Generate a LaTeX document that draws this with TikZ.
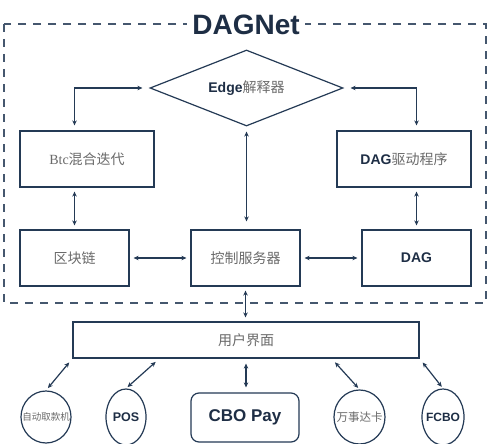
\documentclass[tikz,border=0pt]{standalone}
\usepackage{fontspec}
\setmainfont{Liberation Sans}
\newfontfamily\cjk{Noto Sans CJK SC}
\newfontfamily\serifbtc{Liberation Serif}
\usetikzlibrary{arrows.meta,shapes.geometric}
\definecolor{navy}{HTML}{1E2E45}
\definecolor{linec}{HTML}{243A55}
\definecolor{txtgray}{HTML}{6A6A6A}
\newcommand{\en}[1]{{\normalfont\bfseries\color{navy}#1}}
\begin{document}
\begin{tikzpicture}[x=1pt,y=-1pt,
  box/.style={draw=linec,line width=1.2pt,inner sep=0pt,minimum height=56pt,text=txtgray,font=\cjk\fontsize{14}{16}\selectfont},
  biarrow/.style={draw=linec,line width=1.2pt,{Stealth[length=5pt,width=4.5pt]}-{Stealth[length=5pt,width=4.5pt]}},
  oval/.style={draw=linec,line width=1.2pt,ellipse,inner sep=0pt},
  cjksmall/.style={text=txtgray,font=\cjk\fontsize{#1}{#1}\selectfont},
  latbold/.style={text=navy,font=\bfseries\fontsize{#1}{#1}\selectfont}
]
\useasboundingbox (0,0) rectangle (503,444);
\fill[white] (0,0) rectangle (503,444);
\draw[linec!85, line width=1.2pt, dash pattern=on 8pt off 7pt] (4,24) rectangle (486,303);
\node[fill=white,inner xsep=5pt,inner ysep=2pt,latbold=28] (title) at (246,25) {DAGNet};

\node[diamond, draw=linec, line width=1.2pt, minimum width=193pt, minimum height=76pt, inner sep=0pt, text=txtgray, font=\cjk\fontsize{14}{16}\selectfont] (edge) at (246.5,88) {\makebox[0pt]{\en{Edge}解释器}};

\node[box,minimum width=134pt] (btc) at (87,159) {{\serifbtc Btc}混合迭代};
\node[box,minimum width=134pt] (drv) at (404,159) {\en{DAG}驱动程序};
\node[box,minimum width=109pt] (chain) at (74.5,258) {区块链};
\node[box,minimum width=109pt] (ctrl) at (245.5,258) {控制服务器};
\node[box,minimum width=109pt] (dag) at (416.5,258) {\en{DAG}};
\node[box,minimum width=346pt,minimum height=36pt] (ui) at (246,340) {用户界面};
\node[box,minimum width=108pt,minimum height=49pt,rounded corners=8pt,latbold=17] (cbo) at (245,417.5) {CBO Pay};

\node[oval,minimum width=50pt,minimum height=52pt,cjksmall=9.5] (atm) at (46,417) {\makebox[0pt]{自动取款机}};
\node[oval,minimum width=40pt,minimum height=56pt,latbold=12.5] (pos) at (126,417) {\makebox[0pt]{POS}};
\node[oval,minimum width=51pt,minimum height=54pt,cjksmall=11.5] (mc) at (359.5,417) {\makebox[0pt]{万事达卡}};
\node[oval,minimum width=42pt,minimum height=56pt,latbold=12] (fcbo) at (443,417) {\makebox[0pt]{FCBO}};

\draw[biarrow, shorten <=7pt, shorten >=5pt] (edge.west) -| (chain.north |- btc.north);
\draw[biarrow, shorten <=7pt, shorten >=5pt] (edge.east) -| (dag.north |- drv.north);
\draw[biarrow, shorten <=4pt, shorten >=4pt] (chain.north |- btc.south) -- (chain.north);
\draw[biarrow, shorten <=4pt, shorten >=4pt] (dag.north |- drv.south) -- (dag.north);
\draw[biarrow, shorten <=5pt, shorten >=8pt] (edge.south) -- (edge.south |- ctrl.north);
\draw[biarrow, shorten <=4pt, shorten >=4pt] (chain) -- (ctrl);
\draw[biarrow, shorten <=4pt, shorten >=4pt] (ctrl) -- (dag);
\draw[biarrow, shorten <=4pt, shorten >=4pt] (ctrl.south) -- (ui.north -| ctrl.south);

\draw[biarrow, shorten <=5pt, shorten >=3pt] (ui.south west) -- (atm.north);
\draw[biarrow, shorten <=5pt, shorten >=2pt] ([xshift=87pt]ui.south west) -- (pos.north);
\draw[biarrow, shorten <=5pt, shorten >=5pt] (ui.south) -- (ui.south |- cbo.north);
\draw[biarrow, shorten <=5pt, shorten >=2pt] ([xshift=-88pt]ui.south east) -- (mc.north);
\draw[biarrow, shorten <=5pt, shorten >=2pt] (ui.south east) -- (fcbo.north);
\end{tikzpicture}
\end{document}
